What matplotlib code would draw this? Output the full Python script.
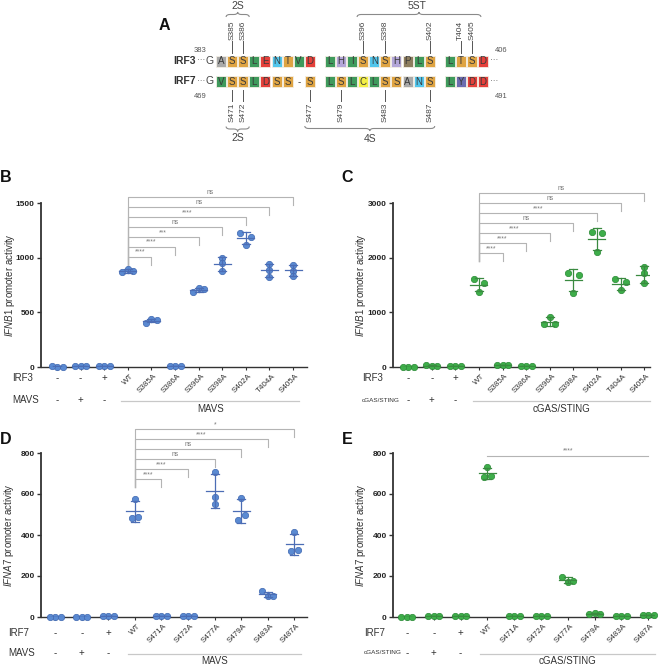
import numpy as np
import matplotlib
matplotlib.use('Agg')
import matplotlib.pyplot as plt
from matplotlib.patches import Rectangle, PathPatch
from matplotlib.path import Path
from matplotlib.transforms import blended_transform_factory

plt.rcParams['font.family'] = ['Liberation Sans', 'DejaVu Sans']
plt.rcParams['mathtext.fontset'] = 'custom'
plt.rcParams['mathtext.it'] = 'Liberation Sans:italic'
plt.rcParams['mathtext.rm'] = 'Liberation Sans'

W, H = 662, 665

# ---- panel A: sequence alignment ----
IRF3_BLOCKS = ["ASSLENTVD", "LHISNSHPLS", "LTSD"]
IRF7_BLOCKS = ["VSSLDSS-S", "LSLCLSSANS", "LYDD"]
IRF3_SITES = ["S385", "S386", "S396", "S398", "S402", "T404", "S405"]
IRF3_SITE_POS = [(0, 1), (0, 2), (1, 3), (1, 5), (1, 9), (2, 1), (2, 2)]
IRF7_SITES = ["S471", "S472", "S477", "S479", "S483", "S487"]
IRF7_SITE_POS = [(0, 1), (0, 2), (0, 8), (1, 1), (1, 5), (1, 9)]
RES_COLORS = {'A': '#a9a9a9', 'S': '#dfa443', 'T': '#dfa443', 'L': '#3f9a5c', 'V': '#3f9a5c',
              'I': '#3f9a5c', 'E': '#e5403a', 'D': '#e5403a', 'N': '#52c6ec', 'H': '#b3a6d8',
              'P': '#8d7d5e', 'C': '#f3ef45', 'Y': '#6c6cb0'}

# ---- panels B-E: reporter values (triplicates) ----
IRF3_MUT = ['WT', 'S385A', 'S386A', 'S396A', 'S398A', 'S402A', 'T404A', 'S405A']
IRF7_MUT = ['WT', 'S471A', 'S472A', 'S477A', 'S479A', 'S483A', 'S487A']
CTRL_TF = ['-', '-', '+']
CTRL_STIM = ['-', '+', '-']

B_VALUES = [[4, 5, 4], [6, 5, 6], [8, 7, 8],
            [900, 865, 875], [436, 405, 432], [10, 12, 10], [718, 682, 709],
            [1000, 950, 875], [1225, 1190, 1120], [940, 890, 820], [930, 882, 836]]
B_SIG = ['****', '****', '***', 'ns', '****', 'ns', 'ns']

C_VALUES = [[5, 5, 5], [25, 28, 25], [12, 14, 12],
            [1610, 1536, 1372], [38, 42, 36], [15, 16, 15], [920, 780, 790],
            [1715, 1690, 1360], [2465, 2445, 2105], [1615, 1555, 1405], [1830, 1715, 1530]]
C_SIG = ['****', '****', '****', 'ns', '****', 'ns', 'ns']

D_VALUES = [[2, 2, 2], [2, 2, 2], [3, 3, 3],
            [574, 481, 489], [3, 3, 3], [3, 3, 3], [707, 585, 550],
            [582, 472, 496], [104, 126, 102], [415, 322, 327]]
D_SIG = ['****', '****', 'ns', 'ns', '****', '*']

E_VALUES = [[2, 2, 2], [3, 3, 3], [3, 3, 3],
            [730, 683, 688], [3, 3, 3], [3, 3, 3], [169, 194, 177],
            [18, 15, 16], [3, 3, 3], [8, 9, 8]]
E_SIG = ['****']

BLUE = ('#5a8ad2', '#3f67b0', '#4c6db5')
GREEN = ('#3eae4a', '#2a8a36', '#3a8a40')

fig = plt.figure(figsize=(W / 100, H / 100), dpi=100)


def fx(x):
    return x / W


def fy(y):
    return 1 - y / H


# ---------------- panel A ----------------
axA = fig.add_axes([0, 0, 1, 1])
axA.set_xlim(0, W); axA.set_ylim(H, 0); axA.axis('off')
BLOCK_START = [0, len(IRF3_BLOCKS[0]), len(IRF3_BLOCKS[0]) + len(IRF3_BLOCKS[1])]


def res_x(b, i):
    # centre of residue i in block b (pixels); blocks separated by a small gap
    return 216 + 11.1 * (BLOCK_START[b] + i) + 8.9 * b + 5


def brace(x0, x1, y, h):
    xm = (x0 + x1) / 2; r = min(4, (x1 - x0) / 6)
    verts = [(x0, y + h), (x0, y), (x0 + r, y), (xm - r, y), (xm, y), (xm, y - h),
             (xm, y), (xm + r, y), (x1 - r, y), (x1, y), (x1, y + h)]
    codes = [Path.MOVETO, Path.CURVE3, Path.CURVE3, Path.LINETO, Path.CURVE3, Path.CURVE3,
             Path.CURVE3, Path.CURVE3, Path.LINETO, Path.CURVE3, Path.CURVE3]
    axA.add_patch(PathPatch(Path(verts, codes), fill=False, ec='#8a8a8a', lw=0.8))


for name, blocks, yc, num_l, num_r, ynum in [('IRF3', IRF3_BLOCKS, 61, '383', '406', 50),
                                              ('IRF7', IRF7_BLOCKS, 81.5, '469', '491', 96)]:
    axA.text(196, yc, name, ha='right', va='center', fontsize=7.5, fontweight='bold', color='#333')
    axA.text(201, yc, '···', ha='center', va='center', fontsize=6, color='#555')
    axA.text(res_x(0, -1), yc, 'G', ha='center', va='center', fontsize=7.5, color='#444')
    for b, blk in enumerate(blocks):
        for i, aa in enumerate(blk):
            x = res_x(b, i)
            if aa in RES_COLORS:
                axA.add_patch(Rectangle((x - 5, yc - 5.5), 10, 11, fc=RES_COLORS[aa],
                                        ec='#f4efe6', lw=0.6))
            axA.text(x, yc + 0.3, aa, ha='center', va='center', fontsize=7, color='#3a3a3a')
    axA.text(res_x(2, 3) + 11, yc, '···', ha='center', va='center', fontsize=6, color='#555')
    axA.text(200, ynum, num_l, ha='center', va='center', fontsize=5.5, color='#555')
    axA.text(501, ynum, num_r, ha='center', va='center', fontsize=5.5, color='#555')

for lab, (b, i) in zip(IRF3_SITES, IRF3_SITE_POS):
    x = res_x(b, i)
    axA.plot([x, x], [41, 53], color='#555', lw=0.7)
    axA.text(x, 39.5, lab, rotation=90, ha='center', va='bottom', fontsize=6, color='#444')
for lab, (b, i) in zip(IRF7_SITES, IRF7_SITE_POS):
    x = res_x(b, i)
    axA.plot([x, x], [90, 101], color='#555', lw=0.7)
    axA.text(x, 102.5, lab, rotation=90, ha='center', va='top', fontsize=6, color='#444')

brace(res_x(0, 1) - 6, res_x(0, 2) + 6, 14.5, 2.5)
axA.text((res_x(0, 1) + res_x(0, 2)) / 2, 6, '2S', ha='center', va='center', fontsize=7.5, color='#444')
brace(res_x(1, 3) - 6, res_x(2, 2) + 9, 14.5, 2.5)
axA.text((res_x(1, 3) + res_x(2, 2)) / 2, 6, '5ST', ha='center', va='center', fontsize=7.5, color='#444')
brace(res_x(0, 1) - 6, res_x(0, 2) + 6, 129, -2.5)
axA.text((res_x(0, 1) + res_x(0, 2)) / 2, 138, '2S', ha='center', va='center', fontsize=7.5, color='#444')
brace(res_x(0, 8) - 5, res_x(1, 9) + 5, 128.5, -2.5)
axA.text((res_x(0, 8) + res_x(1, 9)) / 2, 139.5, '4S', ha='center', va='center', fontsize=7.5, color='#444')

for lab, x, y in [('A', 164, 25), ('B', 6, 178), ('C', 347, 178), ('D', 6, 440), ('E', 347, 440)]:
    axA.text(x, y, lab, ha='center', va='center', fontsize=11.5, fontweight='bold', color='#111')


# ---------------- panels B-E ----------------
def swarm_offsets(vals, ppu_y, pair_px, trio_px, thr_px=5.0):
    py = np.asarray(vals, float) * ppu_y
    order = np.argsort(py)
    groups, cur = [], [order[0]]
    for a, b in zip(order[:-1], order[1:]):
        if abs(py[b] - py[a]) < thr_px:
            cur.append(b)
        else:
            groups.append(cur); cur = [b]
    groups.append(cur)
    off = np.zeros(len(vals))
    for g in groups:
        g = sorted(g); n = len(g)
        if n == 2:
            slots = [-pair_px / 2, pair_px / 2]
        elif n == 3:
            slots = [0, -trio_px, trio_px]
        else:
            slots = [0] if n == 1 else list((np.arange(n) - (n - 1) / 2) * trio_px)
        for idx, s in zip(g, slots):
            off[idx] = s
    return off


def panel(rect, xlim, values, ymax, yticks, colors, gene, mutants, tf, stim, stim_x,
          sig, br_base, br_step, pair_px, ylab_x):
    l, t, r, btm = rect
    ax = fig.add_axes([fx(l), fy(btm), fx(r - l), (btm - t) / H])
    ax.set_xlim(*xlim); ax.set_ylim(0, ymax)
    ppu_x = (r - l) / (xlim[1] - xlim[0])
    ppu_y = (btm - t) / ymax
    face, edge, ebc = colors
    n = len(values)
    for i, v in enumerate(values):
        off = swarm_offsets(v, ppu_y, pair_px, 5.5) / ppu_x
        ax.scatter(i + off, v, s=21, c=face, edgecolors=edge, linewidths=0.5, zorder=3, clip_on=False)
        m, sd = np.mean(v), np.std(v, ddof=1)
        ax.plot([i - 8.5 / ppu_x, i + 8.5 / ppu_x], [m, m], color=ebc, lw=0.9, zorder=4)
        ax.plot([i, i], [m - sd, m + sd], color=ebc, lw=0.9, zorder=4)
        for yy in (m - sd, m + sd):
            ax.plot([i - 4 / ppu_x, i + 4 / ppu_x], [yy, yy], color=ebc, lw=0.9, zorder=4)
    # axes styling
    for s in ('top', 'right'):
        ax.spines[s].set_visible(False)
    ax.spines['left'].set_linewidth(1.3); ax.spines['left'].set_color('#333')
    ax.spines['bottom'].set_linewidth(1.0); ax.spines['bottom'].set_color('#333')
    ax.set_yticks(yticks)
    ax.set_yticklabels([str(v) for v in yticks], fontsize=6, fontweight='bold', color='#222')
    ax.tick_params(axis='y', length=3, width=1, pad=1.5, color='#333')
    ax.set_xticks(range(n)); ax.set_xticklabels([])
    ax.tick_params(axis='x', length=2.5, width=0.8, color='#333')
    ax.patch.set_visible(False)
    ax.set_ylabel(r'$\it{%s}$ promoter activity' % gene, fontsize=7, color='#333')
    ax.yaxis.set_label_coords((ylab_x - l) / (r - l), 0.5)
    # mutant labels
    wt = len(tf)
    for k, lab in enumerate(mutants):
        ax.annotate(lab, xy=(wt + k, 0), xytext=(1.5, -3.8), textcoords='offset points',
                    rotation=45, ha='right', va='top', rotation_mode='anchor',
                    fontsize=5.8, color='#333', annotation_clip=False)
    # condition rows
    bt = blended_transform_factory(ax.transData, fig.transFigure)
    tf_name, stim_name = stim
    row1, row2 = btm + (11 if ymax > 1000 else 16), btm + (33 if ymax > 1000 else 36)
    fig.text(fx(stim_x), fy(row1), tf_name, ha='left', va='center', fontsize=7, color='#333')
    fig.text(fx(stim_x), fy(row2), stim_name, ha='left', va='center',
             fontsize=7 if len(stim_name) < 6 else 4.6, color='#333')
    for k in range(len(tf)):
        ax.text(k, fy(row1), tf[k], transform=bt, ha='center', va='center', fontsize=7, color='#333')
        ax.text(k, fy(row2), CTRL_STIM[k], transform=bt, ha='center', va='center', fontsize=7, color='#333')
    x0, x1 = wt - 0.27, n - 1 + 0.25
    ax.plot([x0, x1], [fy(row2 + 0.5)] * 2, transform=bt, color='#c8c8c8', lw=0.9, clip_on=False)
    ax.text((x0 + x1) / 2, fy(row2 + 8.5), stim_name, transform=bt, ha='center', va='center',
            fontsize=7, color='#333')
    # significance brackets
    tick = 8 / ppu_y
    if len(sig) == 1:
        y = br_base
        ax.plot([wt, n - 1], [y, y], color='#b4b4b4', lw=0.8, clip_on=False)
        ax.text((wt + n - 1) / 2, y + 1.5 / ppu_y, sig[0], ha='center', va='bottom',
                fontsize=4.8, color='#777')
    else:
        for k, lab in enumerate(sig):
            y = br_base + br_step * k
            tgt = wt + 1 + k
            ax.plot([wt, wt, tgt, tgt], [br_base - tick, y, y, y - tick], color='#b4b4b4',
                    lw=0.8, clip_on=False)
            ax.text((wt + tgt) / 2, y + 1.0 / ppu_y, lab, ha='center', va='bottom',
                    fontsize=4.8, color='#777')
    return ax


panel((41, 203, 307, 367), (-0.68, 10.59), B_VALUES, 1500, [0, 500, 1000, 1500], BLUE, 'IFNB1',
      IRF3_MUT, CTRL_TF, ('IRF3', 'MAVS'), 12, B_SIG, 1008, 91, 10.8, 17)
panel((393, 203, 650, 367), (-0.64, 10.25), C_VALUES, 3000, [0, 1000, 2000, 3000], GREEN, 'IFNB1',
      IRF3_MUT, CTRL_TF, ('IRF3', 'cGAS/STING'), 362, C_SIG, 2080, 183, 10.8, 368)
panel((41, 453, 307, 617), (-0.53, 9.47), D_VALUES, 800, [0, 200, 400, 600, 800], BLUE, 'IFNA7',
      IRF7_MUT, CTRL_TF, ('IRF7', 'MAVS'), 8, D_SIG, 672, 49, 6.7, 16)
panel((393, 453, 655, 617), (-0.52, 9.25), E_VALUES, 800, [0, 200, 400, 600, 800], GREEN, 'IFNA7',
      IRF7_MUT, CTRL_TF, ('IRF7', 'cGAS/STING'), 364, E_SIG, 785, 0, 6.7, 368)

fig.savefig('out.png', dpi=100, facecolor='white')
